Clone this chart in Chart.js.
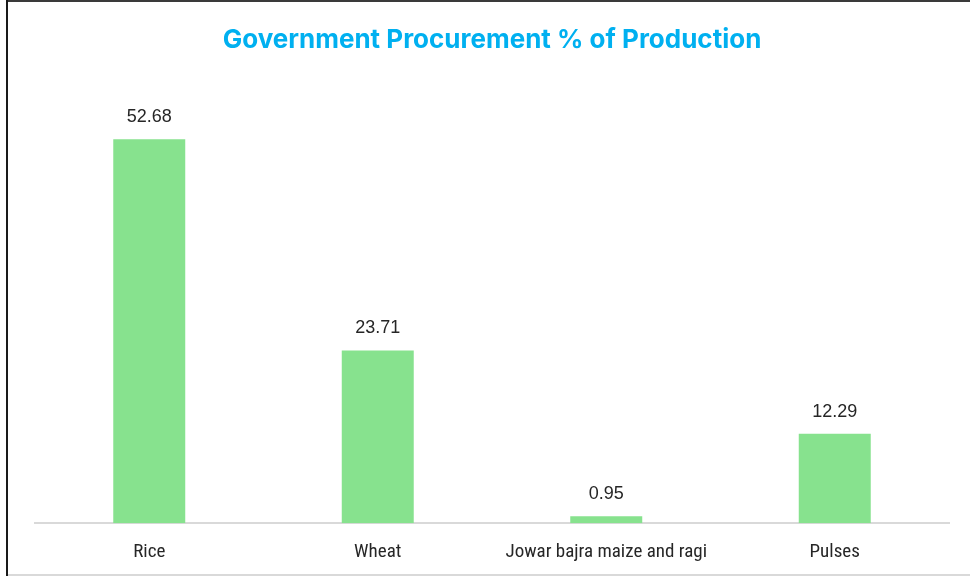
<!DOCTYPE html>
<html>
<head>
<meta charset="utf-8">
<script src="https://cdn.jsdelivr.net/npm/chart.js@4"></script>
<style>
  html, body { margin: 0; padding: 0; background: #fff; }
  #wrap { position: relative; width: 970px; height: 576px; }
  #chart { position: absolute; left: 0; top: 0; }
  /* moldura da imagem original */
  .frameTop { position: absolute; left: 6px; top: 0; width: 964px; height: 2px; background: #3a3a3a; }
  .frameLeft { position: absolute; left: 6px; top: 0; width: 2px; height: 576px; background: #1a1a1a; }
  .frameBottom { position: absolute; left: 8px; top: 574px; width: 962px; height: 2px; background: #d9d9d9; }
</style>
</head>
<body>
<div id="wrap">
  <canvas id="chart" width="970" height="576"></canvas>
  <div class="frameTop"></div>
  <div class="frameLeft"></div>
  <div class="frameBottom"></div>
</div>
<script>
// Dados do gráfico
const categorias = ["Rice", "Wheat", "Jowar bajra maize and ragi", "Pulses"];
const valores = [52.68, 23.71, 0.95, 12.29];
const rotulos = ["52.68", "23.71", "0.95", "12.29"];

// Plugin simples para escrever o valor acima de cada barra
const rotuloBarras = {
    id: "rotuloBarras",
    afterDatasetsDraw(chart) {
        const ctx = chart.ctx;
        const meta = chart.getDatasetMeta(0);
        ctx.save();
        ctx.font = "18px 'Liberation Sans', Arial, sans-serif";
        ctx.fillStyle = "#262626";
        ctx.textAlign = "center";
        ctx.textBaseline = "middle";
        meta.data.forEach((bar, i) => {
            ctx.fillText(rotulos[i], bar.x, bar.y - 22);
        });
        ctx.restore();
    }
};

const config = {
    type: "bar",
    data: {
        labels: categorias,
        datasets: [{
            data: valores,
            backgroundColor: "#87E28E",
            borderWidth: 0,
            barPercentage: 0.315,
            categoryPercentage: 1
        }]
    },
    options: {
        responsive: false,
        animation: false,
        layout: { padding: { left: 35, right: 21, top: 0, bottom: -6 } },
        plugins: {
            legend: { display: false },
            tooltip: { enabled: false },
            title: {
                display: true,
                text: "Government Procurement % of Production",
                color: "#00B0F0",
                font: { family: "Inter, Roboto, sans-serif", size: 26, weight: "bold" },
                padding: { top: 24.4, bottom: 30.4 }
            }
        },
        scales: {
            x: {
                grid: { display: false, drawTicks: false },
                border: { display: true, color: "#d9d9d9", width: 2 },
                ticks: {
                    color: "#262626",
                    padding: 18,
                    font: { family: "'Liberation Sans Narrow', 'Roboto Condensed', sans-serif", size: 19 }
                }
            },
            y: {
                display: false,
                min: 0,
                max: 60
            }
        }
    },
    plugins: [rotuloBarras]
};

new Chart(document.getElementById("chart"), config);
</script>
</body>
</html>
